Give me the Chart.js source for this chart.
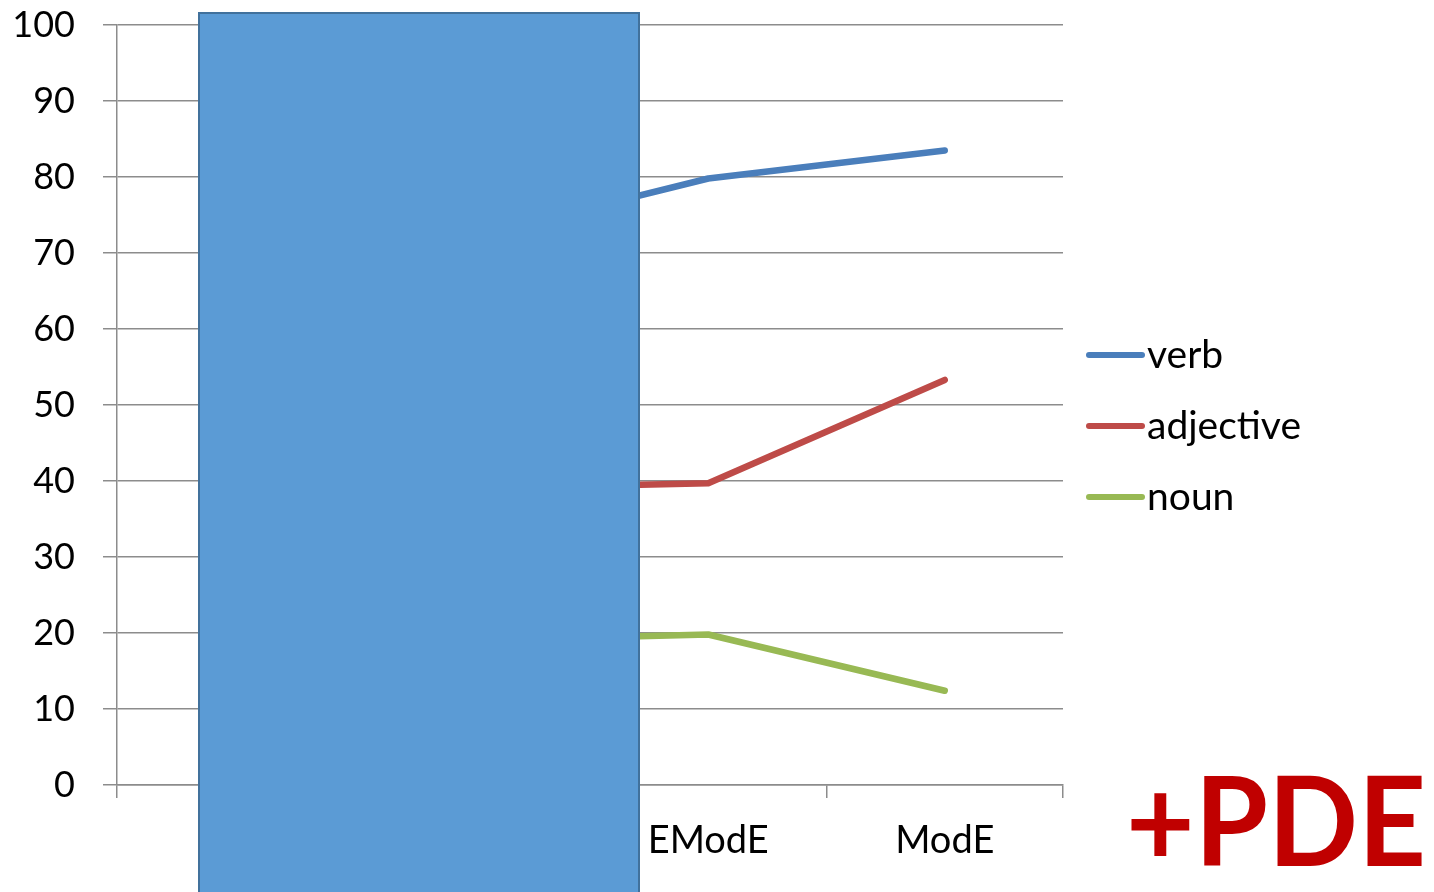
<!DOCTYPE html>
<html>
<head>
<meta charset="utf-8">
<script src="https://cdn.jsdelivr.net/npm/chart.js@4/dist/chart.umd.min.js"></script>
<style>
  html, body { margin: 0; padding: 0; background: #ffffff; }
  #wrap { position: relative; width: 1434px; height: 892px; overflow: hidden; }
  canvas { display: block; }
</style>
</head>
<body>
<div id="wrap"><canvas id="c" width="1434" height="892"></canvas></div>
<script>
// Periods of English along the x axis
const periods = ['OE', 'ME', 'EModE', 'ModE'];

// Share (%) per word class
const verbValues = [62, 72.1, 79.8, 83.5];
const adjectiveValues = [30, 39.0, 39.7, 53.3];
const nounValues = [30, 19.0, 19.8, 12.4];

const yTicks = [0, 10, 20, 30, 40, 50, 60, 70, 80, 90, 100];

const FONT = 'Lato, "Open Sans", sans-serif';
const GRID = '#8c8c8c';

// Custom legend to the right of the plot
const sideLegend = {
  id: 'sideLegend',
  afterDraw(chart) {
    const ctx = chart.ctx;
    const x0 = 1089, x1 = 1142, tx = 1147;
    const rows = [355, 426, 497];
    ctx.save();
    chart.data.datasets.forEach((ds, i) => {
      const y = rows[i];
      ctx.strokeStyle = ds.borderColor;
      ctx.lineWidth = 6;
      ctx.lineCap = 'round';
      ctx.beginPath();
      ctx.moveTo(x0, y);
      ctx.lineTo(x1, y);
      ctx.stroke();
      ctx.fillStyle = '#000000';
      ctx.font = '39px ' + FONT;
      ctx.textAlign = 'left';
      ctx.textBaseline = 'middle';
      ctx.fillText(ds.label, tx, y);
    });
    ctx.restore();
  }
};

// Blue panel laid over the left part of the plot, plus the "+PDE" caption
const overlay = {
  id: 'overlay',
  afterDraw(chart) {
    const ctx = chart.ctx;
    ctx.save();
    ctx.fillStyle = '#5b9bd5';
    ctx.fillRect(198, 12, 442, 900);
    ctx.strokeStyle = '#41719c';
    ctx.lineWidth = 2;
    ctx.strokeRect(199, 13, 440, 900);
    ctx.fillStyle = '#c00000';
    ctx.font = 'bold 124px ' + FONT;
    ctx.textAlign = 'left';
    ctx.textBaseline = 'alphabetic';
    ctx.translate(1126, 866);
    ctx.scale(0.955, 1);
    ctx.fillText('+PDE', 0, 0);
    ctx.restore();
  }
};

new Chart(document.getElementById('c'), {
  type: 'line',
  data: {
    labels: periods,
    datasets: [
      { label: 'verb', data: verbValues, borderColor: '#4a7ebb' },
      { label: 'adjective', data: adjectiveValues, borderColor: '#be4b48' },
      { label: 'noun', data: nounValues, borderColor: '#98b954' }
    ]
  },
  options: {
    responsive: false,
    animation: false,
    devicePixelRatio: 1,
    layout: { padding: { left: 0, right: 371, top: 25, bottom: 0 } },
    elements: {
      line: { borderWidth: 6.5, tension: 0, borderCapStyle: 'round', borderJoinStyle: 'round', fill: false },
      point: { radius: 0, hoverRadius: 0 }
    },
    plugins: {
      legend: { display: false },
      tooltip: { enabled: false }
    },
    scales: {
      x: {
        type: 'category',
        offset: true,
        grid: {
          offset: true,
          drawOnChartArea: false,
          drawTicks: true,
          tickLength: 13,
          color: GRID,
          lineWidth: 1.5
        },
        border: { color: GRID, width: 1.5 },
        ticks: { color: '#000000', font: { family: FONT, size: 38 }, padding: 20, maxRotation: 0 },
        afterFit(scale) {
          scale.height = 107;
          scale.paddingLeft = 0;
          scale.paddingRight = 0;
        }
      },
      y: {
        min: 0,
        max: 100,
        afterBuildTicks(scale) { scale.ticks = yTicks.map(v => ({ value: v })); },
        grid: { color: GRID, lineWidth: 1.5, tickLength: 14 },
        border: { color: GRID, width: 1.5 },
        ticks: { color: '#000000', font: { family: FONT, size: 36 }, padding: 28 },
        afterFit(scale) {
          scale.width = 117;
          scale.paddingTop = 0;
          scale.paddingBottom = 0;
        }
      }
    }
  },
  plugins: [sideLegend, overlay]
});
</script>
</body>
</html>
